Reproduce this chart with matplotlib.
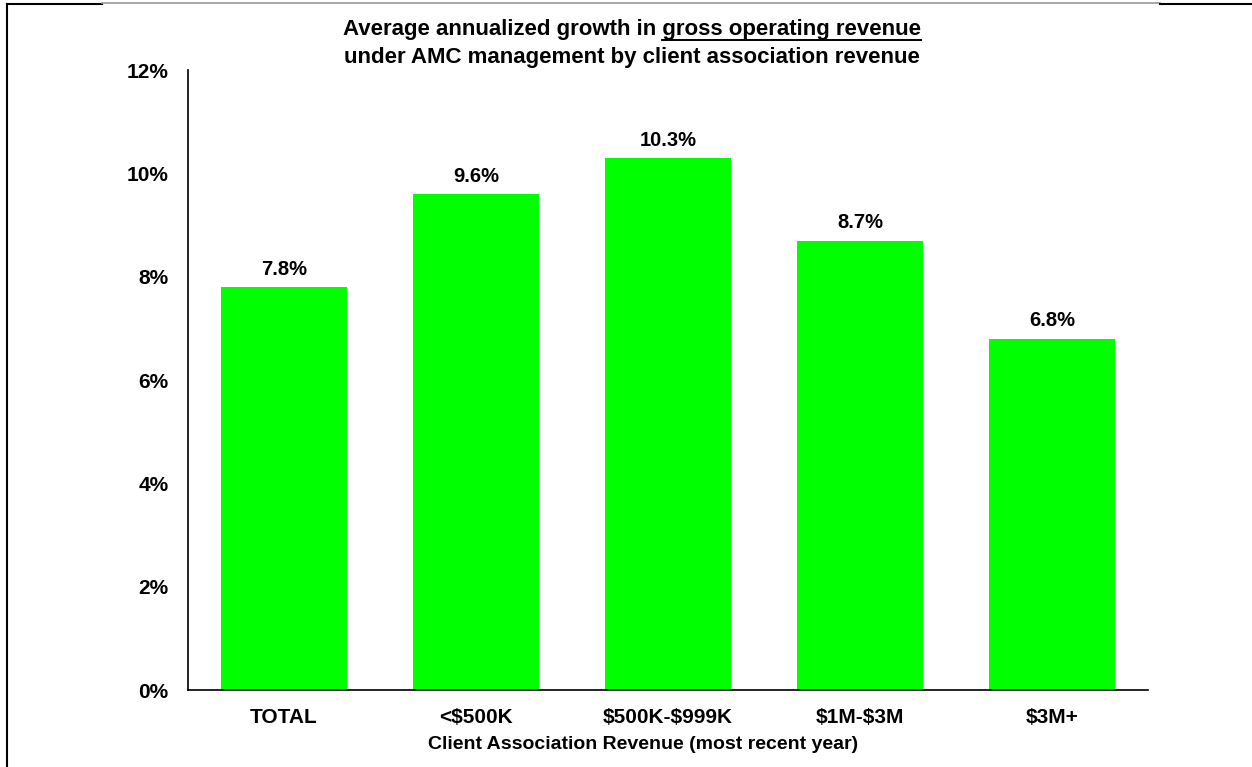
import matplotlib
matplotlib.use("Agg")
import matplotlib.pyplot as plt
from matplotlib.lines import Line2D

categories = ["TOTAL", "<$500K", "$500K-$999K", "$1M-$3M", "$3M+"]
values = [7.8, 9.6, 10.3, 8.7, 6.8]
yticks = [0, 2, 4, 6, 8, 10, 12]
ytick_labels = ["0%", "2%", "4%", "6%", "8%", "10%", "12%"]

plt.rcParams['font.family'] = ['Liberation Sans', 'DejaVu Sans']
plt.rcParams['text.parse_math'] = False

W, H = 1252, 767
fig = plt.figure(figsize=(W / 100, H / 100), dpi=100)
fig.patch.set_facecolor("white")

ax = fig.add_axes([188 / W, 1 - 690 / H, (1148 - 188) / W, (690 - 70) / H])
x = list(range(len(categories)))
ax.bar(x, values, width=0.66, color="#00FF00", zorder=2)
ax.set_xlim(-0.5, len(categories) - 0.5)
ax.set_ylim(0, 12)
ax.set_yticks(yticks)
ax.set_yticklabels(ytick_labels, fontsize=15, fontweight="bold")
ax.set_xticks(x)
ax.set_xticklabels(categories, fontsize=15, fontweight="bold")
ax.tick_params(axis="y", length=0, pad=14)
ax.tick_params(axis="x", length=0, pad=13)
for s in ["top", "right"]:
    ax.spines[s].set_visible(False)
for s in ["left", "bottom"]:
    ax.spines[s].set_linewidth(1.2)
    ax.spines[s].set_color("black")
ax.set_xlabel("Client Association Revenue (most recent year)", fontsize=14,
              fontweight="bold", labelpad=6.5)
ax.xaxis.label.set_x((643 - 188) / 960)

for xi, v in zip(x, values):
    ax.annotate(f"{v:.1f}%", (xi, v), xytext=(0, 6), textcoords="offset points",
                ha="center", va="bottom", fontsize=14.5, fontweight="bold")

# Title with underlined portion
pre = "Average annualized growth in "
mid = "gross operating revenue"
line2 = "under AMC management by client association revenue"
cx = 632 / W
fs = 16
renderer = fig.canvas.get_renderer()
full = fig.text(cx, 1 - 30 / H, pre + mid, ha="center", va="center",
                fontsize=fs, fontweight="bold")
bb_full = full.get_window_extent(renderer)
tmp2 = fig.text(0, 0, mid, fontsize=fs, fontweight="bold")
w_mid = tmp2.get_window_extent(renderer).width
tmp2.remove()
x_end = bb_full.x1
x_start = x_end - w_mid
y_ul = bb_full.y0 + 1
fig.add_artist(Line2D([x_start / W, x_end / W], [y_ul / H, y_ul / H],
                      transform=fig.transFigure, color="black", lw=1.4))
fig.text(cx, 1 - 58 / H, line2, ha="center", va="center",
         fontsize=fs, fontweight="bold")

# Frame lines
def fline(x0, y0, x1, y1, color="black", lw=1.5):
    fig.add_artist(Line2D([x0 / W, x1 / W], [1 - y0 / H, 1 - y1 / H],
                          transform=fig.transFigure, color=color, lw=lw))

fline(7, 4, 102, 4)
fline(102, 3, 1160, 3, color="#999999", lw=1.2)
fline(1160, 4, 1252, 4)
fline(7, 4, 7, 767)

fig.savefig("out.png", dpi=100)
